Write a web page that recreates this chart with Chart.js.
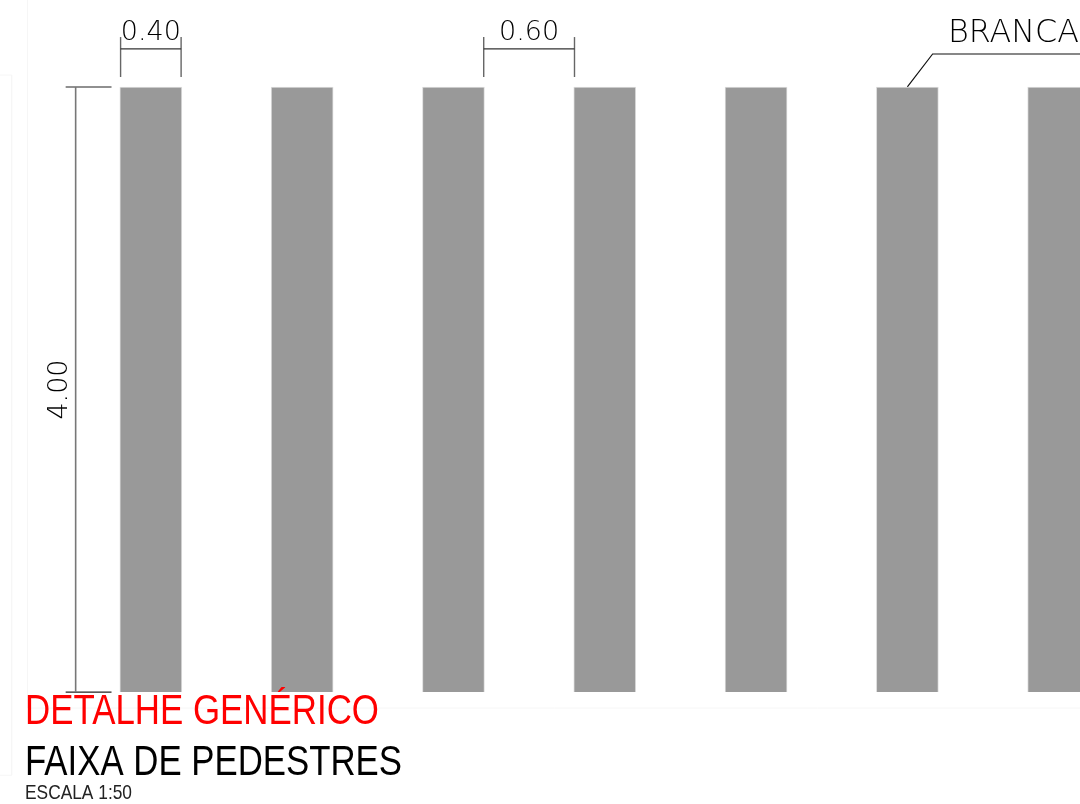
<!DOCTYPE html>
<html>
<head>
<meta charset="utf-8">
<title>Faixa de pedestres</title>
<script src="https://cdn.jsdelivr.net/npm/chart.js@4/dist/chart.umd.min.js"></script>
<style>
html, body { margin: 0; padding: 0; background: #fff; overflow: hidden; }
canvas { display: block; }
</style>
</head>
<body>
<canvas id="faixaChart" width="1080" height="804"></canvas>
<script>
// all drawing values are in metres, first stripe starts at x = 0
const stripeCenters = [0.2, 1.2, 2.2, 3.2, 4.2, 5.2, 6.2];
const stripeLow = [0, 0, 0, 0, 0, 0, 0];
const stripeHigh = [4, 4, 4, 4, 4, 4, 4];

const dim040Line = [[0, 4.252], [0.4, 4.252]];
const dim040Left = [[0, 4.066], [0, 4.33]];
const dim040Right = [[0.4, 4.066], [0.4, 4.33]];
const dim060Line = [[2.4, 4.252], [3.0, 4.252]];
const dim060Left = [[2.4, 4.066], [2.4, 4.33]];
const dim060Right = [[3.0, 4.066], [3.0, 4.33]];
const dim400Line = [[-0.297, 0], [-0.297, 4]];
const dim400Top = [[-0.363, 4], [-0.06, 4]];
const dim400Bottom = [[-0.363, 0], [-0.06, 0]];
const leaderLine = [[5.2, 4], [5.367, 4.218], [6.4, 4.218]];

const frameLineA = [[-0.615, -0.106], [-0.615, 4.6]];
const frameLineB = [[-0.615, -0.106], [6.4, -0.106]];
const frameLineC = [[-0.72, 4.079], [-0.72, -0.55], [-0.8, -0.55]];
const frameLineD = [[-0.8, 4.079], [-0.72, 4.079]];

function toPoints(list) {
    return list.map(p => ({ x: p[0], y: p[1] }));
}

function lineSet(list, color, width) {
    return {
        type: 'line',
        data: toPoints(list),
        borderColor: color,
        borderWidth: width,
        pointRadius: 0,
        tension: 0,
        fill: false
    };
}

const thinFont = '200 27px "DejaVu Sans", sans-serif';

const textPlugin = {
    id: 'textPlugin',
    afterDatasetsDraw(chart) {
        const { ctx, scales } = chart;
        ctx.save();
        ctx.textBaseline = 'alphabetic';
        ctx.fillStyle = '#000000';
        ctx.font = thinFont;
        ctx.textAlign = 'center';
        ctx.fillText('0.40', scales.x.getPixelForValue(0.2), 40);
        ctx.fillText('0.60', scales.x.getPixelForValue(2.7), 40);

        ctx.textAlign = 'left';
        ctx.font = '200 32px "DejaVu Sans", sans-serif';
        ctx.fillText('BRANCA', 948, 42, 131);

        ctx.save();
        ctx.translate(67, scales.y.getPixelForValue(2));
        ctx.rotate(-Math.PI / 2);
        ctx.textAlign = 'center';
        ctx.font = thinFont;
        ctx.fillText('4.00', 0, 0);
        ctx.restore();

        ctx.textAlign = 'left';
        ctx.font = '42px "Liberation Sans", Arial, sans-serif';
        ctx.fillStyle = '#ff0000';
        ctx.fillText('DETALHE GENÉRICO', 25, 724, 354);
        ctx.fillStyle = '#000000';
        ctx.fillText('FAIXA DE PEDESTRES', 25, 775, 377);
        ctx.font = '21px "Liberation Sans", Arial, sans-serif';
        ctx.fillStyle = '#222222';
        ctx.fillText('ESCALA 1:50', 25, 799, 107);
        ctx.restore();
    }
};

function renderChart() {
    const canvas = document.getElementById('faixaChart');
    if (!canvas) return;

    const stripes = stripeCenters.map((x, i) => ({ x: x, y: [stripeLow[i], stripeHigh[i]] }));

    new Chart(canvas, {
        type: 'bar',
        data: {
            datasets: [
                lineSet(frameLineA, '#f6f6f6', 1),
                lineSet(frameLineB, '#f6f6f6', 1),
                lineSet(frameLineC, '#f6f6f6', 1),
                lineSet(frameLineD, '#f6f6f6', 1),
                {
                    type: 'bar',
                    data: stripes,
                    backgroundColor: '#999999',
                    borderColor: '#dcdcdc',
                    borderWidth: 1,
                    barThickness: 62
                },
                lineSet(dim040Line, '#333333', 1.2),
                lineSet(dim040Left, '#666666', 1.4),
                lineSet(dim040Right, '#666666', 1.4),
                lineSet(dim060Line, '#333333', 1.2),
                lineSet(dim060Left, '#666666', 1.4),
                lineSet(dim060Right, '#666666', 1.4),
                lineSet(dim400Line, '#777777', 1.6),
                lineSet(dim400Top, '#222222', 1.2),
                lineSet(dim400Bottom, '#222222', 1.2),
                lineSet(leaderLine, '#111111', 1.2)
            ]
        },
        options: {
            responsive: false,
            animation: false,
            devicePixelRatio: 1,
            layout: { padding: 0 },
            plugins: {
                legend: { display: false },
                title: { display: false },
                tooltip: { enabled: false }
            },
            scales: {
                x: { type: 'linear', offset: false, min: -0.797, max: 6.341, display: false },
                y: { type: 'linear', min: -0.74, max: 4.575, display: false }
            }
        },
        plugins: [textPlugin]
    });
}

window.addEventListener('DOMContentLoaded', renderChart);
</script>
</body>
</html>
